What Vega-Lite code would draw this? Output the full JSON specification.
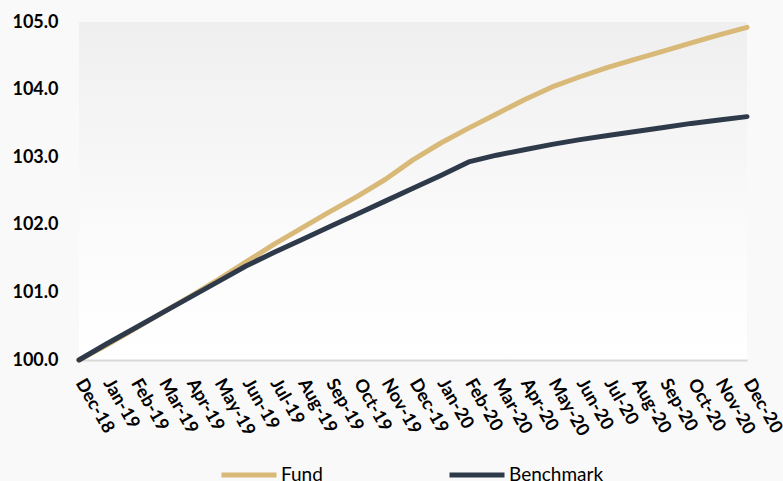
{
  "$schema": "https://vega.github.io/schema/vega-lite/v6.json",
  "width": 668,
  "height": 338,
  "autosize": "none",
  "padding": {"left": 79, "top": 22, "right": 36, "bottom": 121},
  "background": "#f9f9f9",
  "config": {
    "view": {
      "stroke": null,
      "fill": {"gradient": "linear", "x1": 0, "y1": 0, "x2": 0, "y2": 1,
        "stops": [{"offset": 0, "color": "#efefef"}, {"offset": 0.7, "color": "#fcfcfc"}, {"offset": 1, "color": "#ffffff"}]}
    },
    "font": "Lato"
  },
  "data": {
    "values": [
      {"month": "Dec-18", "series": "Fund", "value": 100.00},
      {"month": "Jan-19", "series": "Fund", "value": 100.22},
      {"month": "Feb-19", "series": "Fund", "value": 100.46},
      {"month": "Mar-19", "series": "Fund", "value": 100.70},
      {"month": "Apr-19", "series": "Fund", "value": 100.94},
      {"month": "May-19", "series": "Fund", "value": 101.19},
      {"month": "Jun-19", "series": "Fund", "value": 101.45},
      {"month": "Jul-19", "series": "Fund", "value": 101.71},
      {"month": "Aug-19", "series": "Fund", "value": 101.95},
      {"month": "Sep-19", "series": "Fund", "value": 102.19},
      {"month": "Oct-19", "series": "Fund", "value": 102.42},
      {"month": "Nov-19", "series": "Fund", "value": 102.67},
      {"month": "Dec-19", "series": "Fund", "value": 102.96},
      {"month": "Jan-20", "series": "Fund", "value": 103.21},
      {"month": "Feb-20", "series": "Fund", "value": 103.43},
      {"month": "Mar-20", "series": "Fund", "value": 103.64},
      {"month": "Apr-20", "series": "Fund", "value": 103.85},
      {"month": "May-20", "series": "Fund", "value": 104.04},
      {"month": "Jun-20", "series": "Fund", "value": 104.19},
      {"month": "Jul-20", "series": "Fund", "value": 104.33},
      {"month": "Aug-20", "series": "Fund", "value": 104.45},
      {"month": "Sep-20", "series": "Fund", "value": 104.57},
      {"month": "Oct-20", "series": "Fund", "value": 104.69},
      {"month": "Nov-20", "series": "Fund", "value": 104.81},
      {"month": "Dec-20", "series": "Fund", "value": 104.92},
      {"month": "Dec-18", "series": "Benchmark", "value": 100.00},
      {"month": "Jan-19", "series": "Benchmark", "value": 100.24},
      {"month": "Feb-19", "series": "Benchmark", "value": 100.47},
      {"month": "Mar-19", "series": "Benchmark", "value": 100.70},
      {"month": "Apr-19", "series": "Benchmark", "value": 100.93},
      {"month": "May-19", "series": "Benchmark", "value": 101.16},
      {"month": "Jun-19", "series": "Benchmark", "value": 101.39},
      {"month": "Jul-19", "series": "Benchmark", "value": 101.59},
      {"month": "Aug-19", "series": "Benchmark", "value": 101.78},
      {"month": "Sep-19", "series": "Benchmark", "value": 101.97},
      {"month": "Oct-19", "series": "Benchmark", "value": 102.16},
      {"month": "Nov-19", "series": "Benchmark", "value": 102.35},
      {"month": "Dec-19", "series": "Benchmark", "value": 102.54},
      {"month": "Jan-20", "series": "Benchmark", "value": 102.73},
      {"month": "Feb-20", "series": "Benchmark", "value": 102.93},
      {"month": "Mar-20", "series": "Benchmark", "value": 103.03},
      {"month": "Apr-20", "series": "Benchmark", "value": 103.11},
      {"month": "May-20", "series": "Benchmark", "value": 103.19},
      {"month": "Jun-20", "series": "Benchmark", "value": 103.26},
      {"month": "Jul-20", "series": "Benchmark", "value": 103.32},
      {"month": "Aug-20", "series": "Benchmark", "value": 103.38},
      {"month": "Sep-20", "series": "Benchmark", "value": 103.44},
      {"month": "Oct-20", "series": "Benchmark", "value": 103.50},
      {"month": "Nov-20", "series": "Benchmark", "value": 103.55},
      {"month": "Dec-20", "series": "Benchmark", "value": 103.60}
    ]
  },
  "mark": {"type": "line", "strokeWidth": 5, "strokeCap": "round", "strokeJoin": "round"},
  "encoding": {
    "x": {
      "field": "month", "type": "ordinal", "sort": null,
      "scale": {"type": "point", "padding": 0},
      "axis": {
        "title": null, "labelAngle": 60, "labelAlign": "left", "labelBaseline": "middle",
        "labelFont": "Lato", "labelFontSize": 18, "labelFontWeight": "bold", "labelColor": "#000000",
        "labelPadding": 20, "ticks": false, "domainColor": "#d9d9d9", "domainWidth": 2,
        "labelOverlap": false, "labelBound": false, "grid": false
      }
    },
    "y": {
      "field": "value", "type": "quantitative",
      "scale": {"domain": [100, 105], "zero": false, "nice": false},
      "axis": {
        "title": null, "values": [100, 101, 102, 103, 104, 105], "format": ".1f",
        "labelFont": "Lato", "labelFontSize": 18, "labelFontWeight": "bold", "labelColor": "#000000",
        "labelPadding": 21, "ticks": false, "domain": false, "grid": false
      }
    },
    "color": {
      "field": "series", "type": "nominal",
      "scale": {"domain": ["Fund", "Benchmark"], "range": ["#D9B978", "#2E3A4A"]},
      "legend": {
        "title": null, "orient": "none", "legendX": 140, "legendY": 423, "direction": "horizontal",
        "symbolType": "stroke", "symbolSize": 3025, "symbolStrokeWidth": 5,
        "labelFont": "Lato", "labelFontSize": 19, "labelColor": "#000000", "labelOffset": 2,
        "columnPadding": 116, "padding": 0
      }
    }
  }
}
